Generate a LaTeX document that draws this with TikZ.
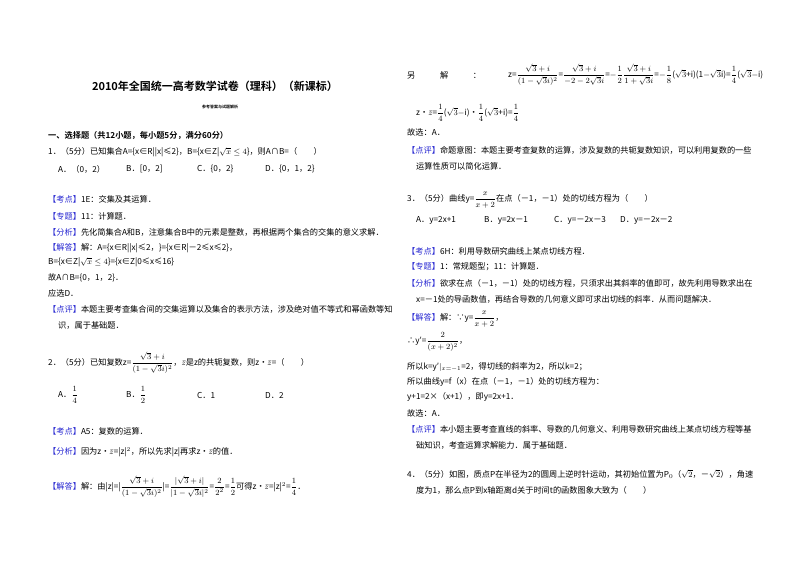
\documentclass[tikz,border=0pt]{standalone}
\usepackage{fontspec}
\setmainfont{Noto Sans CJK SC}[BoldFont={Noto Sans CJK SC Bold}]
\usepackage{amsmath}
\begin{document}
\begin{tikzpicture}[x=1pt,y=-1pt,
  t/.style={anchor=west,inner sep=0pt,font=\fontsize{8.2}{10}\selectfont},
  ]
\definecolor{lab}{RGB}{40,40,210}
\newcommand{\tg}[1]{\textcolor{lab}{【#1】}}
\newcommand{\fr}[2]{\dfrac{#1}{#2}}
\useasboundingbox[fill=white] (0,0) rectangle (800,565);
% left column
\node[anchor=center,inner sep=0pt,font=\fontsize{11}{13}\selectfont\bfseries] (title) at (215,86) {2010年全国统一高考数学试卷（理科）（新课标）};
\node[anchor=center,inner sep=0pt,font=\fontsize{4}{5}\selectfont\bfseries] (sub) at (220,107) {参考答案与试题解析};
\node[t,font=\fontsize{8.2}{10}\selectfont\bfseries] (sec) at (48,136) {一、选择题（共12小题，每小题5分，满分60分）};
\node[t] (q1) at (48,152) {1．（5分）已知集合A=\{x∈R||x|≤2\}，B=\{x∈Z|$\sqrt{x}\leq4$\}，则A∩B=（\quad\quad）};
\node[t] (o1a) at (58,169) {A．（0，2）};
\node[t] (o1b) at (126,169) {B．[0，2]};
\node[t] (o1c) at (197,169) {C．\{0，2\}};
\node[t] (o1d) at (265,169) {D．\{0，1，2\}};
\node[t] (k1) at (48,199) {\tg{考点}1E：交集及其运算．};
\node[t] (z1) at (48,216) {\tg{专题}11：计算题．};
\node[t] (f1) at (48,232) {\tg{分析}先化简集合A和B，注意集合B中的元素是整数，再根据两个集合的交集的意义求解．};
\node[t] (j1) at (48,248) {\tg{解答}解：A=\{x∈R||x|≤2，\}=\{x∈R|－2≤x≤2\}，};
\node[t] (j1b) at (48,262) {B=\{x∈Z|$\sqrt{x}\leq4$\}=\{x∈Z|0≤x≤16\}};
\node[t] (j1c) at (48,278) {故A∩B=\{0，1，2\}．};
\node[t] (j1d) at (48,293) {应选D．};
\node[t] (p1) at (48,309) {\tg{点评}本题主要考查集合间的交集运算以及集合的表示方法，涉及绝对值不等式和幂函数等知};
\node[t] (p1b) at (58,325) {识，属于基础题．};
\node[t] (q2) at (48,363) {2．（5分）已知复数z=$\fr{\sqrt{3}+i}{(1-\sqrt{3}i)^2}$，$\bar z$是z的共轭复数，则z•$\bar z$=（\quad\quad）};
\node[t] (o2a) at (58,395) {A．$\fr{1}{4}$};
\node[t] (o2b) at (126,395) {B．$\fr{1}{2}$};
\node[t] (o2c) at (197,395) {C．1};
\node[t] (o2d) at (265,395) {D．2};
\node[t] (k2) at (48,431) {\tg{考点}A5：复数的运算．};
\node[t] (f2) at (48,452) {\tg{分析}因为z•$\bar z$=|z|$^2$，所以先求|z|再求z•$\bar z$的值．};
\node[t] (j2) at (48,487) {\tg{解答}解：由|z|=|$\fr{\sqrt{3}+i}{(1-\sqrt{3}i)^2}$|=$\fr{|\sqrt{3}+i|}{|1-\sqrt{3}i|^2}$=$\fr{2}{2^2}$=$\fr12$可得z•$\bar z$=|z|$^2$=$\fr14$．};
% right column
\node[t] (l1) at (407,75) {另\qquad\quad 解\qquad\quad ：};
\node[t] (l1m) at (508,75) {z=$\fr{\sqrt{3}+i}{(1-\sqrt{3}i)^2}$=$\fr{\sqrt{3}+i}{-2-2\sqrt{3}i}$=$-\fr{1}{2}\fr{\sqrt{3}+i}{1+\sqrt{3}i}$=$-\fr18$($\sqrt3$+i)(1$-\sqrt3$i)=$\fr14$($\sqrt3$$-$i)};
\node[t] (l2) at (416,113) {z•$\bar z$=$\fr14$($\sqrt3$$-$i)•$\fr14$($\sqrt3$+i)=$\fr14$};
\node[t] (l3) at (407,132) {故选：A．};
\node[t] (l4) at (407,150) {\tg{点评}命题意图：本题主要考查复数的运算，涉及复数的共轭复数知识，可以利用复数的一些};
\node[t] (l5) at (416,166) {运算性质可以简化运算．};
\node[t] (q3) at (407,200) {3．（5分）曲线y=$\fr{x}{x+2}$在点（－1，－1）处的切线方程为（\quad\quad）};
\node[t] (o3a) at (416,220) {A．y=2x+1};
\node[t] (o3b) at (484,220) {B．y=2x－1};
\node[t] (o3c) at (554,220) {C．y=－2x－3};
\node[t] (o3d) at (620,220) {D．y=－2x－2};
\node[t] (k3) at (407,251) {\tg{考点}6H：利用导数研究曲线上某点切线方程．};
\node[t] (z3) at (407,267) {\tg{专题}1：常规题型；11：计算题．};
\node[t] (f3) at (407,283) {\tg{分析}欲求在点（－1，－1）处的切线方程，只须求出其斜率的值即可，故先利用导数求出在};
\node[t] (f3b) at (416,299) {x=－1处的导函数值，再结合导数的几何意义即可求出切线的斜率．从而问题解决．};
\node[t] (j3) at (407,319) {\tg{解答}解：∵y=$\fr{x}{x+2}$，};
\node[t] (j3b) at (407,342) {∴y′=$\fr{2}{(x+2)^2}$，};
\node[t] (j3c) at (407,367) {所以k=y′$|_{x=-1}$=2，得切线的斜率为2，所以k=2；};
\node[t] (j3d) at (407,382) {所以曲线y=f（x）在点（－1，－1）处的切线方程为：};
\node[t] (j3e) at (407,397) {y+1=2×（x+1），即y=2x+1．};
\node[t] (j3f) at (407,413) {故选：A．};
\node[t] (p3) at (407,429) {\tg{点评}本小题主要考查直线的斜率、导数的几何意义、利用导数研究曲线上某点切线方程等基};
\node[t] (p3b) at (416,445) {础知识，考查运算求解能力．属于基础题．};
\node[t] (q4) at (407,474) {4．（5分）如图，质点P在半径为2的圆周上逆时针运动，其初始位置为P$_0$（$\sqrt2$，－$\sqrt2$），角速};
\node[t] (q4b) at (416,490) {度为1，那么点P到x轴距离d关于时间t的函数图象大致为（\quad\quad）};
\end{tikzpicture}
\end{document}
